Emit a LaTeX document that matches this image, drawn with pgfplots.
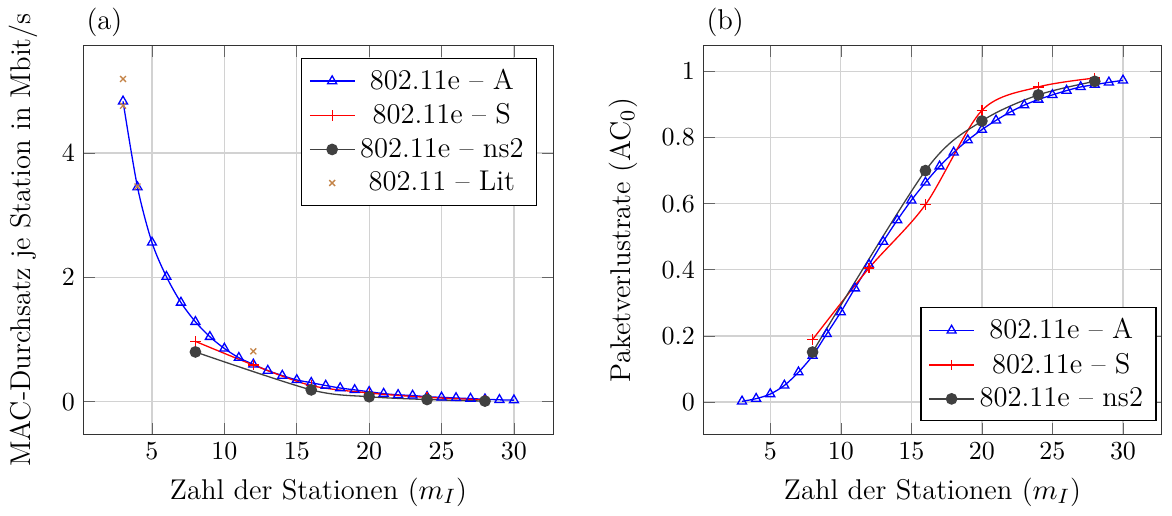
\documentclass[border=0pt]{standalone}
\usepackage{pgfplots}
\pgfplotsset{compat=1.18}
\definecolor{litc}{RGB}{196,132,72}
\definecolor{nsgray}{RGB}{64,64,64}
\pgfplotstableread{
x y
3 4.83
4 3.45
5 2.56
6 2.01
7 1.595
8 1.285
9 1.044
10 0.856
11 0.707
12 0.60
13 0.50
14 0.42
15 0.35
16 0.305
17 0.26
18 0.22
19 0.19
20 0.16
21 0.13
22 0.11
23 0.10
24 0.08
25 0.07
26 0.06
27 0.05
28 0.04
29 0.03
30 0.025
}\thrA
\pgfplotstableread{
x y
8 0.97
12 0.59
16 0.26
20 0.14
24 0.07
28 0.03
}\thrS
\pgfplotstableread{
x y
8 0.80
16 0.19
20 0.08
24 0.035
28 0.01
}\thrN
\pgfplotstableread{
x y
3 5.19
3 4.76
4 3.46
12 0.81
}\thrL
\pgfplotstableread{
x y
3 0.002
4 0.01
5 0.024
6 0.05
7 0.09
8 0.14
9 0.206
10 0.272
11 0.344
12 0.415
13 0.485
14 0.55
15 0.61
16 0.664
17 0.713
18 0.755
19 0.792
20 0.824
21 0.852
22 0.877
23 0.898
24 0.915
25 0.929
26 0.942
27 0.953
28 0.96
29 0.967
30 0.973
}\lossA
\pgfplotstableread{
x y
8 0.189
12 0.405
16 0.597
20 0.882
24 0.953
28 0.98
}\lossS
\pgfplotstableread{
x y
8 0.151
16 0.70
20 0.85
24 0.929
28 0.97
}\lossN
\begin{document}
\begin{tikzpicture}
\pgfplotsset{
  common/.style={
    scale only axis,
    height=149.4pt,
    xmin=0.3, xmax=32.7,
    xtick={5,10,...,30},
    grid=major,
    grid style={gray!35, line width=0.5pt},
    axis line style={black!80},
    tick style={black!60},
    label style={font=\fontsize{11}{13}\selectfont},
    xlabel={Zahl der Stationen ($m_I$)},
    legend cell align=center,
    legend style={font=\fontsize{11}{13}\selectfont, draw=black, row sep=0pt},
  },
  pa/.style={color=blue, mark=triangle, smooth, line width=0.5pt},
  ps/.style={color=red, mark=+, smooth, line width=0.5pt},
  pn/.style={color=nsgray, mark=*, mark options={fill=nsgray}, smooth, line width=0.5pt},
}
\begin{axis}[common, name=L,
  width=180.6pt,
  ymin=-0.52, ymax=5.72,
  ytick={0,2,4},
  ylabel={MAC-Durchsatz je Station in Mbit/s},
  ylabel style={at={(axis description cs:-0.13,0.5)}, anchor=center},
  legend style={at={(axis description cs:0.966,0.969)}, anchor=north east},
]
\addplot[pa] table {\thrA};
\addlegendentry{802.11e -- A}
\addplot[ps] table {\thrS};
\addlegendentry{802.11e -- S}
\addplot[pn] table {\thrN};
\addlegendentry{802.11e -- ns2}
\addplot[color=litc, only marks, mark=x, mark size=1.6pt, line width=0.5pt] table {\thrL};
\addlegendentry{802.11 -- Lit}
\end{axis}
\node[anchor=base west, inner sep=0pt, font=\fontsize{11}{13}\selectfont] at ([xshift=0.8pt,yshift=6.2pt]L.north west) {(a)};
\begin{axis}[common, name=R, at={(238.7pt,0pt)},
  width=176pt,
  ymin=-0.097, ymax=1.077,
  ytick={0,0.2,0.4,0.6,0.8,1},
  ylabel={Paketverlustrate (AC$_0$)},
  ylabel style={at={(axis description cs:-0.177,0.5)}, anchor=center},
  legend style={at={(axis description cs:0.99,0.033)}, anchor=south east},
]
\addplot[pa] table {\lossA};
\addlegendentry{802.11e -- A}
\addplot[ps] table {\lossS};
\addlegendentry{802.11e -- S}
\addplot[pn] table {\lossN};
\addlegendentry{802.11e -- ns2}
\end{axis}
\node[anchor=base west, inner sep=0pt, font=\fontsize{11}{13}\selectfont] at ([xshift=0.8pt,yshift=6.2pt]R.north west) {(b)};
\path (-32.3pt,-30.8pt) rectangle (418.9pt,167.1pt);
\end{tikzpicture}
\end{document}
